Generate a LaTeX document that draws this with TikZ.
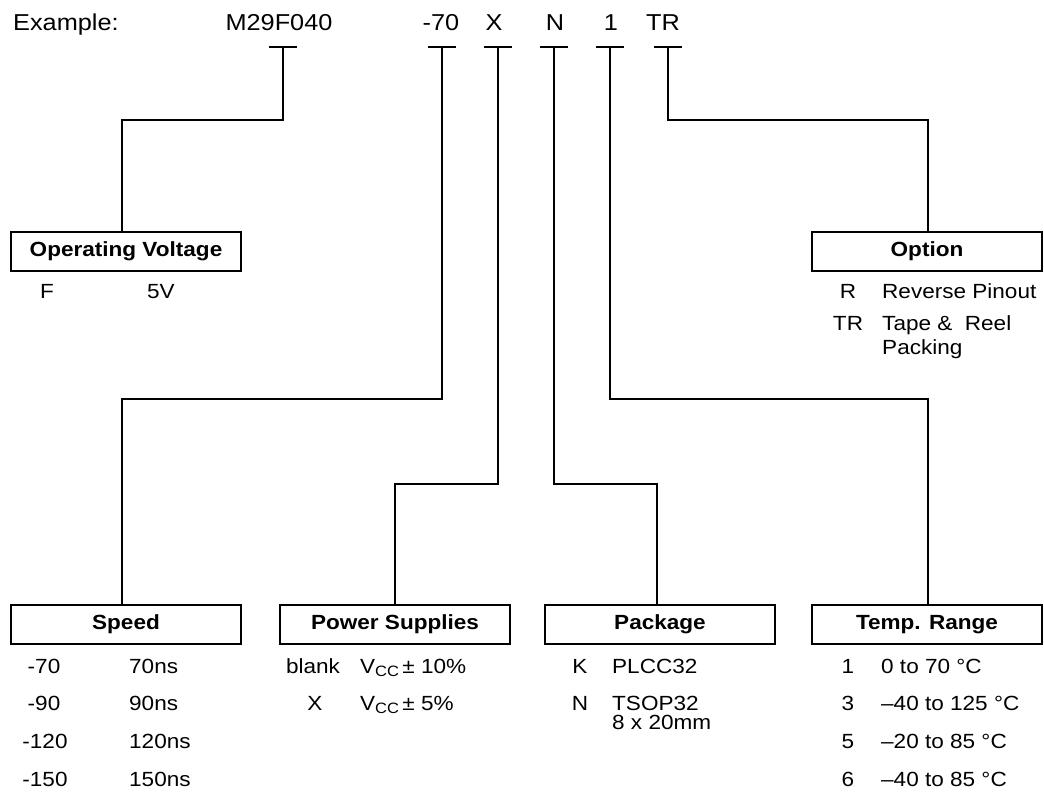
\documentclass[tikz,border=0pt]{standalone}
\usepackage{fontspec}
\setmainfont{Liberation Sans}[FakeStretch=1.1]
\begin{document}
\begin{tikzpicture}[x=1pt,y=-1pt,
  topcode/.style={font=\fontsize{23}{27}\selectfont, inner sep=0pt, anchor=base},
  catbox/.style={draw, line width=2pt, minimum width=230pt, minimum height=39pt, inner sep=0pt,
                 font=\bfseries\fontsize{20.5}{24}\selectfont},
  lcode/.style={font=\fontsize{20.5}{24}\selectfont, inner sep=0pt, anchor=base},
  ldesc/.style={font=\fontsize{20.5}{24}\selectfont, inner sep=0pt, anchor=base west, align=left},
  wire/.style={line width=2pt},
  tickline/.style={line width=2pt}]
\useasboundingbox (0,0) rectangle (1044,793);

% top line
\node[topcode, anchor=base west] (ex) at (13,30) {Example:};
\node[topcode] (m29) at (279,30) {M29F040};
\node[topcode] (c70) at (441,30) {-70};
\node[topcode] (cx) at (494,30) {X};
\node[topcode] (cn) at (555,30) {N};
\node[topcode] (c1) at (611,30) {1};
\node[topcode] (ctr) at (663,30) {TR};

% tick coordinates
\coordinate (tm) at (283,47);
\coordinate (t70) at (442,47);
\coordinate (tx) at (498,47);
\coordinate (tn) at (554,47);
\coordinate (t1) at (610,47);
\coordinate (ttr) at (668,47);
\foreach \t in {tm,t70,tx,tn,t1,ttr}
  \draw[tickline] ([xshift=-14pt]\t) -- ([xshift=14pt]\t);

% boxes
\node[catbox] (ov) at (126,251.5) {Operating Voltage};
\node[catbox] (opt) at (927,251.5) {Option};
\node[catbox] (spd) at (126,624.5) {Speed};
\node[catbox] (pwr) at (395,624.5) {Power Supplies};
\node[catbox] (pkg) at (660,624.5) {Package};
\node[catbox] (tmp) at (927,624.5) {Temp. Range};

% bend coordinates
\coordinate (bm) at (122,120);
\coordinate (btr) at (928,120);
\coordinate (b70) at (122,399);
\coordinate (bx) at (395,484);
\coordinate (bn) at (657,484);
\coordinate (b1) at (928,399);

\draw[wire] (tm) |- (bm) -- (bm |- ov.north);
\draw[wire] (ttr) |- (btr) -- (btr |- opt.north);
\draw[wire] (t70) |- (b70) -- (b70 |- spd.north);
\draw[wire] (tx) |- (bx) -- (bx |- pwr.north);
\draw[wire] (tn) |- (bn) -- (bn |- pkg.north);
\draw[wire] (t1) |- (b1) -- (b1 |- tmp.north);

% Operating voltage rows
\node[ldesc] (ovf) at (40,298) {F};
\node[ldesc] (ov5) at (147,298) {5V};

% Option rows
\node[lcode] (optr) at (848,298) {R};
\node[ldesc] (optrd) at (882,298) {Reverse Pinout};
\node[lcode] (opttr) at (848,330) {TR};
\node[ldesc] (opttrd) at (882,330) {Tape \&\ \ Reel};
\node[ldesc] (opttrd2) at (882,354) {Packing};

% Speed rows
\node[lcode] (s1) at (44,673) {-70};
\node[ldesc] (s1d) at (129,673) {70ns};
\node[lcode] (s2) at (44,710) {-90};
\node[ldesc] (s2d) at (129,710) {90ns};
\node[lcode] (s3) at (45,748) {-120};
\node[ldesc] (s3d) at (129,748) {120ns};
\node[lcode] (s4) at (45,786) {-150};
\node[ldesc] (s4d) at (129,786) {150ns};

% Power supplies rows
\newcommand{\vccsub}{V\raisebox{-3.5pt}{\fontsize{15}{15}\selectfont CC}}
\node[lcode] (p1) at (313,673) {blank};
\node[ldesc] (p1d) at (360,673) {\vccsub\,± 10\%};
\node[lcode] (p2) at (315,710) {X};
\node[ldesc] (p2d) at (360,710) {\vccsub\,± 5\%};

% Package rows
\node[lcode] (k1) at (580,673) {K};
\node[ldesc] (k1d) at (612,673) {PLCC32};
\node[lcode] (k2) at (580,710) {N};
\node[ldesc] (k2d) at (612,710) {TSOP32};
\node[ldesc] (k2d2) at (612,729) {8 x 20mm};

% Temp rows
\node[lcode] (r1) at (848,673) {1};
\node[ldesc] (r1d) at (881,673) {0 to 70 °C};
\node[lcode] (r2) at (848,710) {3};
\node[ldesc] (r2d) at (881,710) {–40 to 125 °C};
\node[lcode] (r3) at (848,748) {5};
\node[ldesc] (r3d) at (881,748) {–20 to 85 °C};
\node[lcode] (r4) at (848,786) {6};
\node[ldesc] (r4d) at (881,786) {–40 to 85 °C};
\end{tikzpicture}
\end{document}
